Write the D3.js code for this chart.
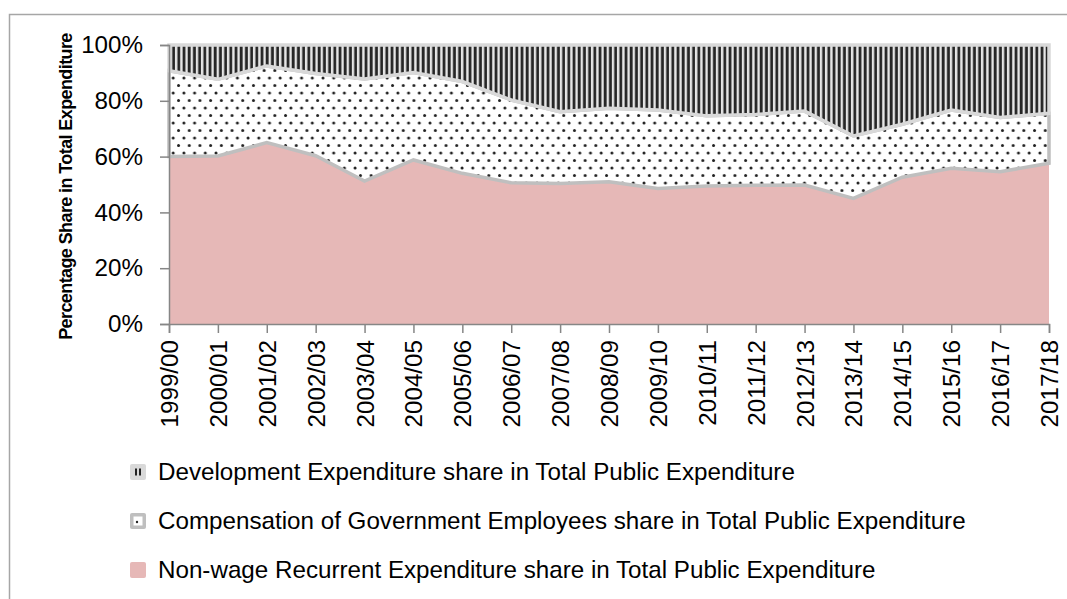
<!DOCTYPE html>
<html>
<head>
<meta charset="utf-8">
<script src="https://cdn.jsdelivr.net/npm/d3@7"></script>
<style>
  body { margin: 0; background: #fff; }
  svg text { font-family: "Liberation Sans", Arial, sans-serif; fill: #000; }
</style>
</head>
<body>
<div id="chart"></div>
<script>
"use strict";

var years = ["1999/00", "2000/01", "2001/02", "2002/03", "2003/04", "2004/05", "2005/06",
  "2006/07", "2007/08", "2008/09", "2009/10", "2010/11", "2011/12", "2012/13", "2013/14",
  "2014/15", "2015/16", "2016/17", "2017/18"];
var nonWage = [60, 60.2, 65, 60.3, 51.2, 58.8, 54, 50.6, 50.4, 51, 48.6, 49.5, 49.7, 49.8, 45, 52.6, 55.8, 54.6, 57.6];
var compensation = [30.8, 27.5, 27.5, 29.5, 36.6, 31.3, 32.9, 29.7, 25.7, 26.3, 28.1, 25.1, 25.4, 26.5, 22.4, 19, 20.9, 19.4, 17.9];
var development = [9.2, 12.3, 7.5, 10.2, 12.2, 9.9, 13.1, 19.7, 23.9, 22.7, 23.3, 25.4, 24.9, 23.7, 32.6, 28.4, 23.3, 26, 24.5];
var yTicks = [0, 0.2, 0.4, 0.6, 0.8, 1];
var seriesNames = {
  "dev": "Development Expenditure share in Total Public Expenditure",
  "comp": "Compensation of Government Employees share in Total Public Expenditure",
  "nonwage": "Non-wage Recurrent Expenditure share in Total Public Expenditure"
};

var width = 1067;
var height = 599;
var plot = { "left": 169, "right": 1049, "top": 45, "bottom": 324 };
var fontSize = "24.2px";

var svg = d3.select("#chart").append("svg").attr("width", width).attr("height", height);
var defs = svg.append("defs");

// vertical stripes for development
var stripes = defs.append("pattern").attr("id", "stripes").attr("patternUnits", "userSpaceOnUse")
  .attr("width", 5.2).attr("height", 10);
stripes.append("rect").attr("width", 5.2).attr("height", 10).attr("fill", "#e6e6e6");
stripes.append("rect").attr("x", 0.6).attr("width", 2.8).attr("height", 10).attr("fill", "#262626");

// dotted grid for compensation
var dots = defs.append("pattern").attr("id", "dots").attr("patternUnits", "userSpaceOnUse")
  .attr("width", 10.7).attr("height", 15);
dots.append("rect").attr("width", 10.7).attr("height", 15).attr("fill", "#fff");
dots.append("circle").attr("cx", 2).attr("cy", 3).attr("r", 1.5).attr("fill", "#222");
dots.append("circle").attr("cx", 7.35).attr("cy", 10.5).attr("r", 1.5).attr("fill", "#222");

// outer chart border (top and left visible)
svg.append("path").attr("d", "M9.5," + (height + 5) + "V14.5H" + (width + 5))
  .attr("fill", "none").attr("stroke", "#a6a6a6").attr("stroke-width", 1.5);

var table = years.map(function (y, i) {
  return { "year": y, "nonwage": nonWage[i] / 100, "comp": compensation[i] / 100, "dev": development[i] / 100 };
});

var x = d3.scalePoint().domain(years).range([plot.left, plot.right]);
var y = d3.scaleLinear().domain([0, 1]).range([plot.bottom, plot.top]);

var stack = d3.stack().keys(["nonwage", "comp", "dev"]).offset(d3.stackOffsetExpand);
var layers = stack(table);

var area = d3.area()
  .x(function (d) { return x(d.data.year); })
  .y0(function (d) { return y(d[0]); })
  .y1(function (d) { return y(d[1]); });

var fills = { "nonwage": "#e6b8b7", "comp": "url(#dots)", "dev": "url(#stripes)" };
var strokes = { "nonwage": "none", "comp": "#bfbfbf", "dev": "#d9d9d9" };

svg.append("g").selectAll("path").data(layers).enter().append("path")
  .attr("d", area)
  .attr("fill", function (d) { return fills[d.key]; })
  .attr("stroke", function (d) { return strokes[d.key]; })
  .attr("stroke-width", 3.5)
  .attr("stroke-linejoin", "miter");

// axes
var yAxis = d3.axisLeft(y).tickValues(yTicks).tickFormat(d3.format(".0%")).tickSize(9).tickPadding(17);
var gY = svg.append("g").attr("transform", "translate(" + plot.left + ",0)").call(yAxis);
gY.selectAll("text").style("font-size", fontSize);

var xAxis = d3.axisBottom(x).tickSize(9).tickPadding(4);
var gX = svg.append("g").attr("transform", "translate(0," + plot.bottom + ")").call(xAxis);
gX.selectAll("text").style("font-size", fontSize)
  .attr("transform", "rotate(-90)")
  .attr("text-anchor", "end")
  .attr("x", -16).attr("y", 0).attr("dy", "0.35em");

[gX, gY].forEach(function (g) {
  g.select(".domain").attr("stroke", "#868686").attr("stroke-width", 1.5);
  g.selectAll(".tick line").attr("stroke", "#868686").attr("stroke-width", 1.5);
});

svg.append("text")
  .attr("transform", "translate(72," + ((plot.top + plot.bottom) / 2 + 2) + ") rotate(-90)")
  .attr("text-anchor", "middle")
  .style("font-size", "18px").style("font-weight", "bold").style("letter-spacing", "-0.6px")
  .text("Percentage Share in Total Expenditure");

// legend
var legendKeys = ["dev", "comp", "nonwage"];
var legend = svg.append("g").selectAll("g").data(legendKeys).enter().append("g")
  .attr("transform", function (d, i) { return "translate(130," + (472 + i * 49) + ")"; });

legend.append("rect").attr("x", 0).attr("y", -8).attr("width", 16).attr("height", 16).attr("rx", 2)
  .attr("fill", function (d) { return d === "dev" ? "#d9d9d9" : d === "comp" ? "#bfbfbf" : "#e6b8b7"; });
legend.filter(function (d) { return d === "dev"; }).each(function () {
  var g = d3.select(this);
  g.append("rect").attr("x", 5).attr("y", -3.5).attr("width", 2).attr("height", 7).attr("fill", "#222");
  g.append("rect").attr("x", 9).attr("y", -3.5).attr("width", 2).attr("height", 7).attr("fill", "#222");
});
legend.filter(function (d) { return d === "comp"; }).each(function () {
  var g = d3.select(this);
  g.append("rect").attr("x", 3.5).attr("y", -4.5).attr("width", 9).attr("height", 9).attr("fill", "#fff");
  g.append("circle").attr("cx", 7).attr("cy", 1).attr("r", 1.2).attr("fill", "#222");
});
legend.append("text").attr("x", 28).attr("dy", "0.35em").style("font-size", fontSize)
  .text(function (d) { return seriesNames[d]; });
</script>
</body>
</html>
